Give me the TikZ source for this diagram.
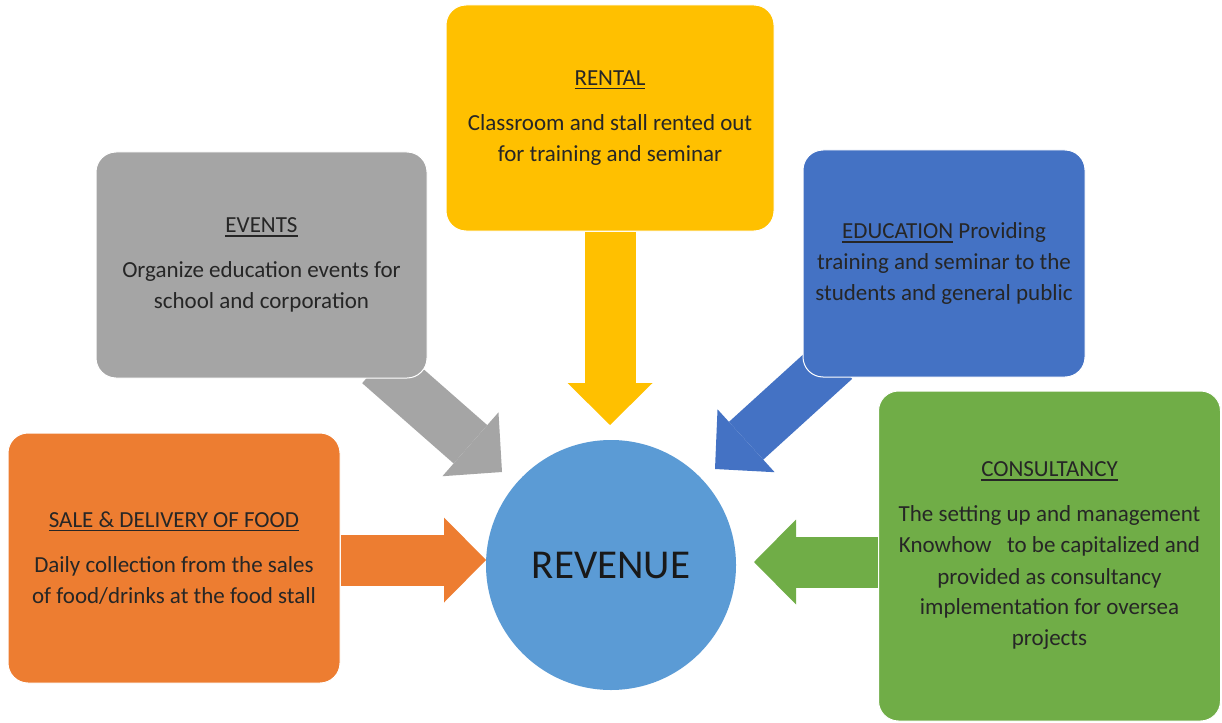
\documentclass[tikz,border=0pt]{standalone}
\usepackage{fontspec}
\setmainfont{Carlito}
\usetikzlibrary{arrows.meta,backgrounds,positioning}

\definecolor{rentyellow}{HTML}{FFC000}
\definecolor{eventgray}{HTML}{A5A5A5}
\definecolor{edublue}{HTML}{4472C4}
\definecolor{saleorange}{HTML}{ED7D31}
\definecolor{consgreen}{HTML}{70AD47}
\definecolor{revblue}{HTML}{5B9BD5}

\newcommand\headline[1]{\sbox0{#1}\rlap{\rule[-4pt]{\wd0}{1.7pt}}\usebox0}

\begin{document}
\begin{tikzpicture}[x=1pt,y=-1pt,
box/.style={rectangle,rounded corners=20pt,draw=white,line width=1pt,
    inner sep=0pt,align=center,text=black!85,
    font=\fontsize{23}{31}\selectfont},
flow/.style={line width=51pt,
    -{Triangle[width=85pt,length=42pt,line width=0pt]}}
    ]
\useasboundingbox (0,0) rectangle (1222,722);

\node[box,fill=rentyellow,minimum width=328pt,minimum height=226pt] (rental) at (610,118)
    {\headline{RENTAL}\\[14pt] Classroom and stall rented out\\ for training and seminar};
\node[box,fill=eventgray,minimum width=331pt,minimum height=226pt] (events) at (261.5,265)
    {\headline{EVENTS}\\[14pt] Organize education events for\\ school and corporation};
\node[box,fill=edublue,minimum width=282pt,minimum height=227pt] (educ) at (944,263.5)
    {\headline{EDUCATION} Providing\\ training and seminar to the\\ students and general public};
\node[box,fill=saleorange,minimum width=332pt,minimum height=250pt] (sale) at (174,558)
    {\headline{SALE \& DELIVERY OF FOOD}\\[14pt] Daily collection from the sales\\ of food/drinks at the food stall};
\node[box,fill=consgreen,minimum width=342pt,minimum height=330pt] (cons) at (1049.5,556)
    {\headline{CONSULTANCY}\\[14pt] The setting up and management\\ Knowhow\ \ \ to be capitalized and\\
     provided as consultancy\\ implementation for oversea\\ projects};
\node[circle,fill=revblue,minimum size=250pt,inner sep=0pt,text=black!90,
    font=\fontsize{41}{45}\selectfont] (rev) at (611,565) {REVENUE};

% arrow ends
\coordinate (renttip) at (610,425);
\coordinate (saletip) at (486,560);
\coordinate (constip) at (754,562);
\coordinate (evtail) at (379,364);
\coordinate (evtip) at (502,472);
\coordinate (edtail) at (835,360);
\coordinate (edtip) at (715,469);

\begin{scope}[on background layer]
\fill[white] (0,0) rectangle (1222,722);
\draw[flow,rentyellow] (rental.south) -- (renttip);
\draw[flow,eventgray] (evtail) -- (evtip);
\draw[flow,edublue] (edtail) -- (edtip);
\draw[flow,saleorange] (sale.east |- saletip) -- (saletip);
\draw[flow,consgreen] (cons.west |- constip) -- (constip);
\end{scope}
\end{tikzpicture}
\end{document}
